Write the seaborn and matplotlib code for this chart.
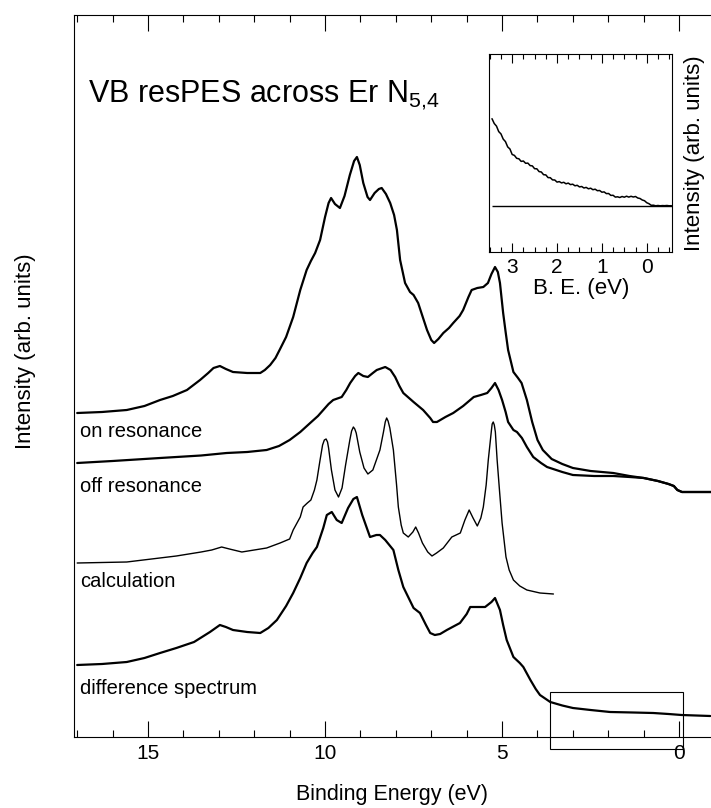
import matplotlib
matplotlib.use("Agg")
import matplotlib.pyplot as plt
import seaborn as sns
from matplotlib.patches import Rectangle
from matplotlib.ticker import MultipleLocator

# binding energy (eV) / intensity (arb. units)
ON_E = [17.0, 16.3, 15.6, 15.1, 14.66, 14.3, 13.9, 13.53, 13.3, 13.15, 12.97, 12.8, 12.6, 12.2, 11.83,
        11.7, 11.55, 11.4, 11.27, 11.1, 10.9, 10.7, 10.52, 10.4, 10.28, 10.14, 10.0, 9.9, 9.83, 9.72,
        9.58, 9.45, 9.3, 9.18, 9.1, 9.02, 8.92, 8.8, 8.73, 8.6, 8.48, 8.4, 8.28, 8.16, 8.05, 7.97,
        7.88, 7.74, 7.6, 7.5, 7.37, 7.25, 7.12, 7.0, 6.92, 6.8, 6.66, 6.5, 6.38, 6.2, 6.1, 5.95, 5.86,
        5.7, 5.53, 5.4, 5.3, 5.2, 5.12, 5.06, 4.97, 4.9, 4.83, 4.68, 4.55, 4.45, 4.3, 4.15, 4.0, 3.85,
        3.6, 3.3, 3.0, 2.5, 1.86, 1.4, 1.0, 0.6, 0.3, 0.15, 0.05, -0.08, -0.5, -0.9]
ON_I = [32.4, 32.5, 32.7, 33.1, 33.7, 34.1, 34.7, 35.7, 36.4, 36.9, 37.1, 36.8, 36.5, 36.4, 36.4,
        36.7, 37.2, 37.9, 38.8, 40.0, 42.0, 44.7, 46.7, 47.6, 48.4, 49.7, 52.0, 53.4, 53.9, 53.3,
        52.9, 54.1, 56.2, 57.6, 58.0, 57.2, 55.4, 54.0, 53.7, 54.4, 54.8, 54.9, 54.3, 53.4, 52.2, 50.7,
        47.7, 45.4, 44.5, 44.2, 43.4, 42.1, 40.7, 39.7, 39.4, 39.8, 40.4, 40.9, 41.4, 42.1, 42.7, 44.0, 44.7,
        44.9, 45.0, 45.4, 46.3, 47.0, 46.5, 45.4, 42.4, 40.5, 38.7, 36.5, 35.9, 35.4, 33.7, 31.5, 29.7, 28.7,
        27.8, 27.3, 26.9, 26.6, 26.4, 26.1, 25.9, 25.6, 25.3, 25.1, 24.7, 24.5, 24.5, 24.5]

OFF_E = [17.0, 16.0, 14.66, 13.5, 12.78, 12.2, 11.65, 11.3, 11.0, 10.7, 10.42, 10.2, 10.05, 9.9, 9.77,
         9.53, 9.4, 9.29, 9.15, 9.06, 8.92, 8.79, 8.65, 8.54, 8.3, 8.15, 8.02, 7.9, 7.79, 7.5, 7.23,
         7.03, 6.95, 6.84, 6.6, 6.38, 6.1, 5.8, 5.6, 5.42, 5.3, 5.2, 5.1, 5.0, 4.9, 4.83, 4.68, 4.58,
         4.44, 4.3, 4.12, 3.9, 3.73, 3.3, 3.0, 2.4, 1.86, 1.4, 1.0, 0.6, 0.3, 0.15, 0.05, -0.08, -0.9]
OFF_I = [27.4, 27.6, 27.9, 28.15, 28.4, 28.5, 28.7, 29.1, 29.7, 30.5, 31.4, 32.1, 32.7, 33.3, 33.7,
         34.0, 34.7, 35.4, 36.1, 36.4, 36.1, 36.0, 36.4, 36.7, 37.0, 36.7, 36.0, 35.1, 34.4, 33.5, 32.7,
         31.9, 31.5, 31.5, 32.0, 32.4, 33.1, 34.0, 34.2, 34.4, 34.9, 35.4, 34.7, 33.7, 32.5, 31.5, 30.7, 30.5,
         29.9, 29.0, 28.0, 27.4, 27.0, 26.5, 26.2, 26.1, 26.1, 26.0, 25.9, 25.6, 25.3, 25.1, 24.7, 24.5, 24.5]

CALC_E = [17.0, 16.3, 15.6, 14.9, 14.2, 13.5, 13.2, 12.92, 12.7, 12.35, 12.0, 11.65, 11.27, 11.0, 10.9,
          10.7, 10.62, 10.5, 10.4, 10.3, 10.23, 10.15, 10.07, 10.02, 9.97, 9.93, 9.9, 9.82, 9.72, 9.62,
          9.52, 9.42, 9.3, 9.25, 9.2, 9.16, 9.12, 9.02, 8.9, 8.79, 8.65, 8.45, 8.35, 8.3, 8.26, 8.22,
          8.17, 8.07, 7.98, 7.93, 7.85, 7.79, 7.65, 7.52, 7.44, 7.36, 7.25, 7.1, 6.98, 6.85, 6.66, 6.42,
          6.3, 6.18, 6.05, 5.93, 5.82, 5.7, 5.6, 5.53, 5.45, 5.39, 5.3, 5.28, 5.25, 5.22, 5.19, 5.14,
          5.07, 5.0, 4.89, 4.8, 4.68, 4.5, 4.3, 3.93, 3.55]
CALC_I = [17.4, 17.45, 17.5, 17.8, 18.1, 18.5, 18.7, 19.0, 18.8, 18.5, 18.7, 18.9, 19.4, 19.8, 20.7,
          22.0, 23.0, 23.4, 23.7, 24.7, 25.7, 27.5, 29.2, 29.7, 29.8, 29.5, 28.9, 26.7, 24.7, 24.0,
          24.9, 27.2, 29.7, 30.6, 31.0, 30.8, 30.4, 28.5, 26.9, 26.3, 26.7, 28.7, 30.5, 31.5, 31.9, 31.6,
          30.9, 28.7, 25.2, 23.0, 21.2, 20.4, 20.0, 20.5, 21.0, 20.4, 19.4, 18.5, 18.1, 18.4, 18.9, 20.0,
          20.2, 20.4, 21.7, 22.7, 21.9, 21.1, 21.9, 23.0, 25.2, 27.7, 30.7, 31.3, 31.5, 31.2, 30.5, 27.7,
          24.5, 21.4, 18.0, 16.7, 15.7, 15.1, 14.7, 14.4, 14.3]

DIFF_E = [17.0, 16.3, 15.6, 15.1, 14.66, 14.2, 13.7, 13.25, 12.97, 12.8, 12.6, 12.2, 11.83, 11.6, 11.36,
          11.1, 10.9, 10.7, 10.52, 10.35, 10.23, 10.05, 9.95, 9.81, 9.67, 9.53, 9.35, 9.2, 9.1, 8.95,
          8.73, 8.55, 8.45, 8.3, 8.07, 7.93, 7.79, 7.5, 7.32, 7.15, 7.03, 6.9, 6.75, 6.56, 6.19, 6.0,
          5.9, 5.7, 5.48, 5.3, 5.2, 5.06, 4.97, 4.87, 4.68, 4.5, 4.4, 4.2, 4.05, 3.93, 3.64, 3.3, 3.0,
          2.5, 1.95, 1.3, 0.73, 0.3, -0.07, -0.88]
DIFF_I = [7.2, 7.3, 7.5, 7.9, 8.4, 8.9, 9.5, 10.5, 11.2, 11.0, 10.7, 10.5, 10.4, 10.9, 11.7,
          13.1, 14.4, 15.9, 17.4, 18.4, 19.0, 20.9, 22.2, 22.5, 21.7, 21.4, 22.9, 23.8, 24.0, 22.2,
          20.0, 20.2, 20.2, 19.7, 18.7, 16.7, 15.0, 12.9, 12.4, 11.2, 10.4, 10.2, 10.3, 10.7, 11.4, 12.3,
          13.0, 13.0, 13.0, 13.5, 13.9, 12.7, 11.2, 9.7, 8.0, 7.4, 7.0, 5.7, 4.8, 4.2, 3.5, 3.15, 2.9,
          2.7, 2.5, 2.45, 2.4, 2.3, 2.2, 2.1]

# inset: difference spectrum near the Fermi level
INSET_E = [3.45, 3.40, 3.35, 3.30, 3.25, 3.20, 3.15, 3.10, 3.05, 3.00, 2.95, 2.90, 2.85, 2.80, 2.75,
           2.70, 2.65, 2.60, 2.55, 2.50, 2.45, 2.40, 2.35, 2.30, 2.25, 2.20, 2.15, 2.10, 2.05, 2.00,
           1.95, 1.90, 1.85, 1.80, 1.75, 1.70, 1.65, 1.60, 1.55, 1.50, 1.45, 1.40, 1.35, 1.30, 1.25,
           1.20, 1.15, 1.10, 1.05, 1.00, 0.95, 0.90, 0.85, 0.80, 0.75, 0.70, 0.65, 0.60, 0.55, 0.50,
           0.45, 0.40, 0.35, 0.30, 0.25, 0.20, 0.15, 0.10, 0.05, 0.00, -0.05, -0.10, -0.15, -0.20,
           -0.25, -0.30, -0.35, -0.40, -0.45, -0.50, -0.55]
INSET_I = [8.70, 8.22, 7.96, 7.41, 7.18, 6.66, 6.41, 5.88, 5.67, 5.12, 5.03, 4.74, 4.69, 4.43, 4.47,
           4.24, 4.26, 4.01, 3.98, 3.70, 3.69, 3.41, 3.37, 3.10, 3.08, 2.81, 2.80, 2.58, 2.57, 2.36,
           2.41, 2.28, 2.34, 2.19, 2.26, 2.11, 2.15, 1.99, 2.04, 1.88, 1.92, 1.77, 1.83, 1.69, 1.75,
           1.60, 1.65, 1.50, 1.52, 1.35, 1.38, 1.21, 1.22, 1.03, 1.04, 0.86, 0.89, 0.82, 0.92, 0.85,
           0.95, 0.86, 0.94, 0.87, 0.92, 0.77, 0.72, 0.57, 0.50, 0.30, 0.20, 0.04, 0.05, -0.01,
           0.02, -0.01, 0.01, 0.00, 0.02, -0.01, 0.00]

# region shown in the inset (marked by a box on the main plot)
BOX_E = (3.64, -0.1)
BOX_I = (-1.2, 4.5)

LABELS = ['on resonance', 'off resonance', 'calculation', 'difference spectrum']
LABEL_Y = [30.0, 24.5, 15.0, 4.3]

sns.set_theme(style="ticks", rc={'axes.edgecolor': 'black', 'text.color': 'black',
                                 'xtick.color': 'black', 'ytick.color': 'black',
                                 'axes.labelcolor': 'black'})
plt.rcParams['font.family'] = ['Liberation Sans', 'DejaVu Sans']
plt.rcParams['mathtext.fontset'] = 'custom'
plt.rcParams['mathtext.rm'] = 'Liberation Sans'
plt.rcParams['mathtext.it'] = 'Liberation Sans:italic'
plt.rcParams['lines.solid_joinstyle'] = 'round'
plt.rcParams['lines.solid_capstyle'] = 'round'

fig = plt.figure(figsize=(7.11, 8.08), dpi=100)
ax = fig.add_axes([74 / 711, 1 - 737 / 808, 637 / 711, 722 / 808])

for xs, ys, lw in [(ON_E, ON_I, 1.6), (OFF_E, OFF_I, 1.6), (CALC_E, CALC_I, 1.0), (DIFF_E, DIFF_I, 1.6)]:
    sns.lineplot(x=xs, y=ys, ax=ax, color='black', linewidth=lw, estimator=None, sort=False)

for lab, y in zip(LABELS, LABEL_Y):
    ax.text(16.91, y, lab, fontsize=14.5, va='baseline', ha='left')
ax.text(16.69, 63.5, r'VB resPES across Er N$_{\mathregular{5{,}4}}$', fontsize=22, va='baseline', ha='left')

ax.add_patch(Rectangle((BOX_E[0], BOX_I[0]), BOX_E[1] - BOX_E[0], BOX_I[1] - BOX_I[0],
                       fill=False, edgecolor='black', linewidth=0.8, clip_on=False))

ax.set_xlim(17.09, -0.9)
ax.set_ylim(0, 72.2)
ax.xaxis.set_major_locator(MultipleLocator(5))
ax.xaxis.set_minor_locator(MultipleLocator(1))
ax.tick_params(axis='x', which='both', direction='in', top=True, bottom=True, width=0.8,
               labelsize=15, pad=5)
ax.tick_params(axis='x', which='major', length=11.5)
ax.tick_params(axis='x', which='minor', length=5)
ax.tick_params(axis='y', left=False, labelleft=False)
ax.spines['right'].set_visible(False)
for s in ['left', 'top', 'bottom']:
    ax.spines[s].set_linewidth(0.8)

ax.set_xlabel('Binding Energy (eV)', fontsize=15.5, va='center')
ax.xaxis.set_label_coords(0.5, -0.0803)
ax.set_ylabel('Intensity (arb. units)', fontsize=16, va='center')
ax.yaxis.set_label_coords(-0.0769, 0.5346)

# inset
ax_in = fig.add_axes([489.3 / 711, 1 - 252.3 / 808, 183 / 711, 198 / 808])
sns.lineplot(x=INSET_E, y=INSET_I, ax=ax_in, color='black', linewidth=1.1, estimator=None, sort=False)
ax_in.hlines(0, max(INSET_E), -0.57, color='black', linewidth=1.0)
ax_in.set_xlim(3.51, -0.57)
ax_in.set_ylim(-4.66, 15.14)
ax_in.xaxis.set_major_locator(MultipleLocator(1))
ax_in.xaxis.set_minor_locator(MultipleLocator(0.25))
ax_in.tick_params(axis='x', which='both', direction='in', top=True, bottom=True, width=0.8,
                  labelsize=15, pad=4)
ax_in.tick_params(axis='x', which='major', length=6.5)
ax_in.tick_params(axis='x', which='minor', length=3.5)
ax_in.tick_params(axis='y', left=False, right=False, labelleft=False)
for s in ax_in.spines.values():
    s.set_linewidth(0.8)
ax_in.set_xlabel('B. E. (eV)', fontsize=16, va='center')
ax_in.xaxis.set_label_coords(0.5, -0.183)
ax_in.yaxis.set_label_position('right')
ax_in.set_ylabel('Intensity (arb. units)', fontsize=16, va='center')
ax_in.yaxis.set_label_coords(1.124, 0.5)

fig.savefig('out.png', dpi=100)
